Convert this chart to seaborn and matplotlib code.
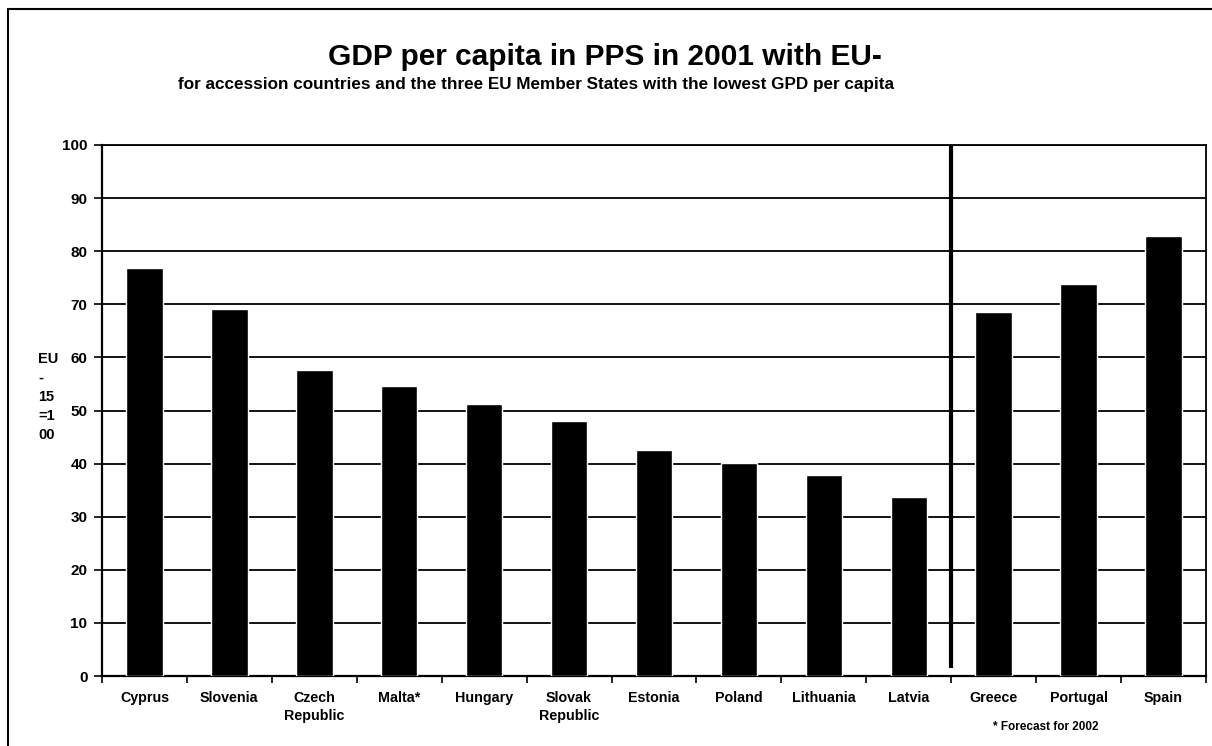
import matplotlib
matplotlib.use("Agg")
import matplotlib.pyplot as plt
from matplotlib.lines import Line2D
import seaborn as sns
import pandas as pd

# GDP per capita in PPS, 2001, EU-15 = 100
accession_countries = ["Cyprus", "Slovenia", "Czech\nRepublic", "Malta*", "Hungary",
                       "Slovak\nRepublic", "Estonia", "Poland", "Lithuania", "Latvia"]
accession_values = [76.8, 69.1, 57.7, 54.7, 51.2, 48.0, 42.5, 40.2, 37.9, 33.7]

member_states = ["Greece", "Portugal", "Spain"]
member_values = [68.6, 73.8, 82.8]

y_ticks = list(range(0, 101, 10))

df = pd.DataFrame({
    "country": accession_countries + member_states,
    "value": accession_values + member_values,
})

sns.set_style("white")
plt.rcParams["font.family"] = ["Liberation Sans", "DejaVu Sans"]
plt.rcParams["font.weight"] = "bold"
for key in ["text.color", "axes.labelcolor", "xtick.color", "ytick.color"]:
    plt.rcParams[key] = "black"

fig = plt.figure(figsize=(12.12, 7.46), dpi=100)
ax = fig.add_axes([102 / 1212, 1 - 676 / 746, (1206 - 102) / 1212, (676 - 145) / 746])

sns.barplot(data=df, x="country", y="value", color="black", width=0.43,
            saturation=1, ax=ax, zorder=3)

ax.set_ylim(0, 100)
ax.set_xlim(-0.5, len(df) - 0.5)
ax.set_yticks(y_ticks)
ax.set_yticklabels([str(t) for t in y_ticks], fontsize=11, fontweight="bold")
ax.yaxis.grid(True, color="black", linewidth=1.3, zorder=1)
ax.set_axisbelow(True)

# ticks on the category boundaries, labels centred under the bars
ax.set_xticks([i + 0.5 for i in range(-1, len(df))], minor=False)
ax.set_xticklabels([])
ax.set_xticks(range(len(df)), minor=True)
ax.set_xticklabels(df["country"], minor=True, fontsize=10.3, fontweight="bold",
                   linespacing=1.35)
ax.tick_params(axis="x", which="major", direction="out", length=5, width=1.2,
               bottom=True, color="black")
ax.tick_params(axis="x", which="minor", length=0, pad=11)
ax.tick_params(axis="y", direction="out", length=6, width=1.2, left=True,
               color="black", pad=4.5)

for side in ["left", "right", "top", "bottom"]:
    ax.spines[side].set_visible(True)
    ax.spines[side].set_color("black")
    ax.spines[side].set_linewidth(1.3)
ax.spines["bottom"].set_linewidth(1.6)
ax.spines["left"].set_linewidth(1.6)

ax.set_xlabel("")
ax.set_ylabel("")

# separator between accession countries and EU member states
sep = len(accession_countries) - 0.5
ax.plot([sep, sep], [1.5, 100], color="black", linewidth=3, zorder=4,
        solid_capstyle="butt")

# y-axis caption
fig.text(38 / 1212, 1 - 397 / 746, "EU\n-\n15\n=1\n00", fontsize=10.5,
         fontweight="bold", ha="left", va="center", linespacing=1.45)

fig.text(605 / 1212, 1 - 57 / 746, "GDP per capita in PPS in 2001 with EU-",
         fontsize=21.5, fontweight="bold", ha="center", va="center")
fig.text(536 / 1212, 1 - 84 / 746,
         "for accession countries and the three EU Member States with the lowest GPD per capita",
         fontsize=12.3, fontweight="bold", ha="center", va="center")

fig.text(1046 / 1212, 1 - 727 / 746, "* Forecast for 2002", fontsize=8.5,
         fontweight="bold", ha="center", va="center")

# outer frame
fig.add_artist(Line2D([8 / 1212, 8 / 1212], [0, 1 - 9 / 746], color="black",
                      linewidth=1.5, transform=fig.transFigure))
fig.add_artist(Line2D([8 / 1212, 1], [1 - 9 / 746, 1 - 9 / 746], color="black",
                      linewidth=1.5, transform=fig.transFigure))

fig.savefig("out.png", dpi=100, facecolor="white")
